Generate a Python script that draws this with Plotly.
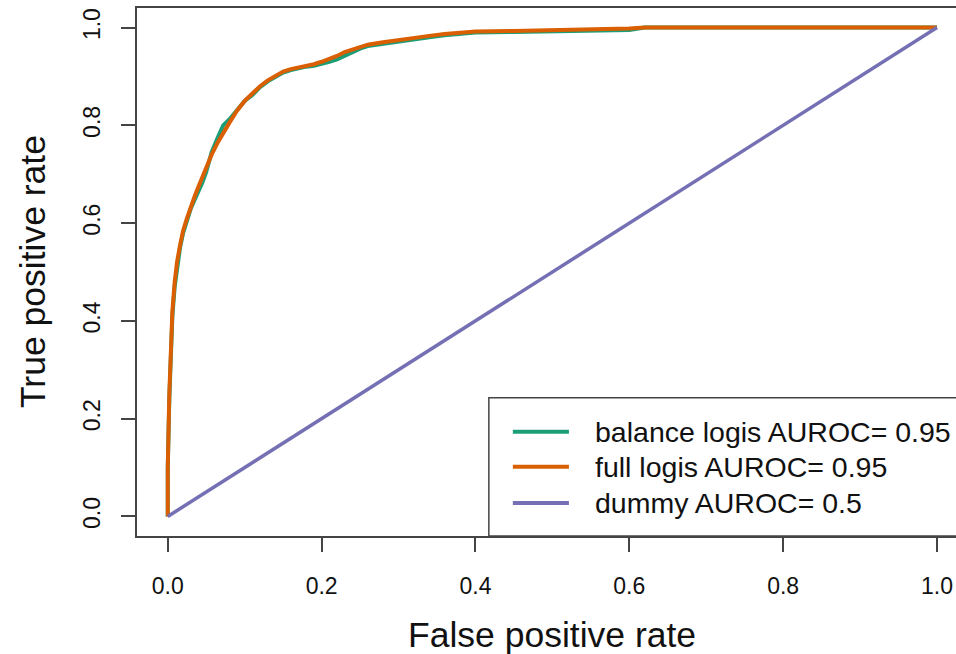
import plotly.graph_objects as go

# ---- data ----
fpr_grid = [0, 0.0, 0.002, 0.004, 0.006, 0.009, 0.012, 0.016, 0.02, 0.025, 0.03, 0.035, 0.04, 0.045,
            0.05, 0.057, 0.065, 0.072, 0.08, 0.09, 0.1, 0.11, 0.12, 0.13, 0.14, 0.15, 0.16, 0.17,
            0.18, 0.19, 0.2, 0.21, 0.22, 0.23, 0.24, 0.25, 0.26, 0.28, 0.3, 0.32, 0.34, 0.36,
            0.38, 0.4, 0.45, 0.5, 0.55, 0.6, 0.62, 0.7, 0.8, 0.9, 1.0]
tpr_full = [0, 0.1, 0.25, 0.35, 0.42, 0.48, 0.52, 0.555, 0.585, 0.61, 0.635, 0.655, 0.675, 0.695,
            0.715, 0.74, 0.765, 0.785, 0.805, 0.83, 0.85, 0.865, 0.88, 0.892, 0.902, 0.91, 0.915,
            0.918, 0.922, 0.925, 0.93, 0.935, 0.942, 0.95, 0.955, 0.96, 0.965, 0.97, 0.975, 0.978,
            0.983, 0.987, 0.99, 0.992, 0.993, 0.994, 0.995, 0.998, 1.0, 1.0, 1.0, 1.0, 1.0]
tpr_balance = [0, 0.1, 0.24, 0.34, 0.41, 0.47, 0.51, 0.55, 0.58, 0.605, 0.63, 0.648, 0.665, 0.683,
               0.705, 0.745, 0.775, 0.8, 0.812, 0.832, 0.85, 0.862, 0.878, 0.89, 0.9, 0.908, 0.913,
               0.917, 0.92, 0.922, 0.925, 0.93, 0.935, 0.943, 0.95, 0.957, 0.962, 0.967, 0.972,
               0.976, 0.98, 0.984, 0.988, 0.99, 0.991, 0.992, 0.993, 0.995, 1.0, 1.0, 1.0, 1.0, 1.0]
fpr_dummy = [0, 1]
tpr_dummy = [0, 1]

series_names = ["balance logis AUROC= 0.95", "full logis AUROC= 0.95", "dummy AUROC= 0.5"]
series_colors = ["#1B9E77", "#D95F02", "#7570B3"]
tick_vals = [0.0, 0.2, 0.4, 0.6, 0.8, 1.0]
tick_text = ["0.0", "0.2", "0.4", "0.6", "0.8", "1.0"]

FONT = "Liberation Sans, Arial, Helvetica, sans-serif"
TICKFONT = "Liberation Sans Narrow, Arial Narrow, Liberation Sans, Arial, sans-serif"
AX = "#444444"
TXT = "#111111"

fig = go.Figure()
fig.add_trace(go.Scatter(x=fpr_grid, y=tpr_balance, mode="lines",
                         line=dict(color=series_colors[0], width=4), showlegend=False))
fig.add_trace(go.Scatter(x=fpr_grid, y=tpr_full, mode="lines",
                         line=dict(color=series_colors[1], width=4), showlegend=False))
fig.add_trace(go.Scatter(x=fpr_dummy, y=tpr_dummy, mode="lines",
                         line=dict(color=series_colors[2], width=3.5), showlegend=False))

# legend drawn in R style
leg_x0, leg_y0 = 0.4174, 0.2428
row_y = [0.1732, 0.1014, 0.0277]
shapes = [dict(type="rect", xref="x", yref="y", x0=leg_x0, x1=1.2, y0=-0.04, y1=leg_y0,
               line=dict(color=AX, width=1.5), fillcolor="white", layer="above")]
annotations = []
for name, col, ry in zip(series_names, series_colors, row_y):
    shapes.append(dict(type="line", xref="x", yref="y", x0=0.4486, x1=0.5215, y0=ry, y1=ry,
                       line=dict(color=col, width=4), layer="above"))
    annotations.append(dict(xref="x", yref="y", x=0.5527, y=ry, text=name, showarrow=False,
                            xanchor="left", yanchor="middle",
                            font=dict(family=FONT, size=28.5, color=TXT)))

annotations.append(dict(xref="x", yref="paper", x=0.5, y=0, yshift=-99, text="False positive rate",
                        showarrow=False, xanchor="center", yanchor="middle",
                        font=dict(family=FONT, size=35.5, color=TXT)))
annotations.append(dict(xref="paper", yref="y", x=0, y=0.5, xshift=-104, text="True positive rate",
                        showarrow=False, xanchor="center", yanchor="middle", textangle=-90,
                        font=dict(family=FONT, size=35.5, color=TXT)))

fig.update_layout(
    width=956, height=654,
    margin=dict(l=137, r=0, t=8, b=118, pad=0),
    plot_bgcolor="white", paper_bgcolor="white",
    shapes=shapes, annotations=annotations,
    xaxis=dict(range=[-0.04, 1.0247], showgrid=False, zeroline=False,
               showline=True, linecolor=AX, linewidth=1.5, mirror=True,
               ticks="outside", ticklen=14, tickwidth=1.5, tickcolor=AX,
               tickvals=tick_vals, ticktext=tick_text, ticklabelstandoff=15,
               tickfont=dict(family=TICKFONT, size=23, color=TXT)),
    yaxis=dict(range=[-0.04, 1.04], showgrid=False, zeroline=False,
               showline=True, linecolor=AX, linewidth=1.5, mirror=False,
               ticks="outside", ticklen=14, tickwidth=1.5, tickcolor=AX,
               tickvals=tick_vals, ticktext=tick_text, tickangle=-90, ticklabelstandoff=12,
               tickfont=dict(family=TICKFONT, size=23, color=TXT)),
)

fig.write_html("out.html")
